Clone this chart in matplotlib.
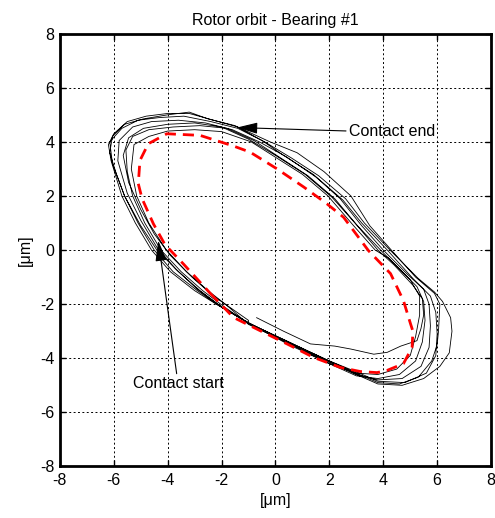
import numpy as np
import matplotlib.pyplot as plt

plt.rcParams['font.family'] = ['Liberation Sans', 'DejaVu Sans']
plt.rcParams['font.size'] = 11.5
plt.rcParams['axes.unicode_minus'] = False

# measured rotor orbit, one list of (x, y) points per revolution [um]
rev0 = [(-0.7, -2.5), (0.3, -3.0), (1.3, -3.47), (2.2, -3.55), (2.8, -3.66), (3.65, -3.85),
        (4.15, -3.78), (4.65, -3.55), (5.25, -3.35), (5.4, -2.9), (5.5, -2.4), (5.45, -1.8),
        (5.1, -1.3), (4.4, -0.55), (3.8, 0.0), (2.95, 1.0), (2.1, 1.95), (1.1, 2.8), (0.0, 3.5),
        (-1.0, 4.1), (-2.0, 4.55), (-3.0, 4.7), (-4.0, 4.65), (-4.9, 4.5), (-5.45, 4.15),
        (-5.65, 3.5), (-5.45, 2.5), (-5.0, 1.5), (-4.5, 0.6), (-3.9, -0.2), (-3.1, -1.0),
        (-2.3, -1.7), (-1.5, -2.25), (-1.0, -2.6)]
rev1 = [(-1.0, -2.7), (0.5, -3.4), (2.0, -4.1), (3.0, -4.55), (3.8, -4.9), (4.6, -4.95),
        (5.3, -4.7), (5.8, -4.1), (6.0, -3.5), (6.05, -3.0), (6.1, -2.0), (5.9, -1.6),
        (5.2, -1.0), (4.3, 0.0), (3.5, 0.9), (2.8, 2.0), (1.8, 2.9), (0.8, 3.6), (-0.2, 4.0),
        (-1.4, 4.55), (-2.3, 4.8), (-3.2, 5.05), (-4.0, 5.05), (-4.8, 4.95), (-5.5, 4.75),
        (-6.0, 4.3), (-6.2, 3.9), (-6.1, 3.3), (-5.7, 2.0), (-5.2, 1.0), (-4.6, 0.0),
        (-3.9, -0.8), (-3.0, -1.5), (-2.2, -2.0), (-1.0, -2.7)]
rev2 = [(0.5, -3.5), (2.0, -4.2), (3.0, -4.55), (3.8, -4.6), (4.5, -4.4), (5.0, -3.9),
        (5.2, -3.2), (5.35, -2.4), (5.35, -1.7), (5.0, -1.1), (4.2, -0.3), (3.7, 0.0),
        (2.9, 0.9), (1.95, 2.0), (1.0, 2.8), (-0.9, 4.0), (-2.0, 4.38), (-3.0, 4.45),
        (-4.0, 4.4), (-4.7, 4.2), (-5.25, 3.9), (-5.35, 3.0), (-5.15, 2.0), (-4.7, 1.0),
        (-4.05, 0.0), (-3.3, -0.8), (-2.5, -1.5), (-1.8, -2.05), (-1.0, -2.75)]
rev3 = [(0.5, -3.45), (2.0, -4.15), (3.0, -4.6), (3.8, -4.8), (4.7, -4.75), (5.4, -4.3),
        (5.7, -3.6), (5.75, -2.8), (5.7, -2.0), (5.5, -1.45), (4.9, -0.9), (4.0, 0.0),
        (3.2, 0.9), (2.4, 1.9), (1.5, 2.7), (0.4, 3.45), (-0.6, 4.0), (-1.6, 4.45),
        (-2.6, 4.7), (-3.6, 4.8), (-4.6, 4.75), (-5.3, 4.55), (-5.8, 4.05), (-5.85, 3.3),
        (-5.5, 2.1), (-5.0, 1.1), (-4.4, 0.1), (-3.7, -0.7), (-2.9, -1.45), (-2.0, -2.1),
        (-1.0, -2.7)]
rev4 = [(0.5, -3.4), (2.0, -4.12), (3.0, -4.6), (3.8, -4.95), (4.7, -5.0), (5.5, -4.75),
        (6.1, -4.3), (6.45, -3.8), (6.55, -3.0), (6.5, -2.5), (6.2, -1.9), (5.9, -1.55),
        (5.3, -1.05), (4.25, 0.0), (3.3, 1.0), (2.6, 1.9), (1.6, 2.75), (0.6, 3.4),
        (-0.4, 4.0), (-1.4, 4.5), (-2.4, 4.75), (-3.4, 4.95), (-4.3, 4.9), (-5.1, 4.8),
        (-5.7, 4.5), (-6.15, 4.0), (-6.05, 3.2), (-5.6, 2.0), (-5.1, 1.0), (-4.5, 0.0),
        (-3.8, -0.8), (-2.9, -1.5), (-2.1, -2.05), (-1.0, -2.68)]
rev5 = [(0.5, -3.45), (2.0, -4.2), (3.0, -4.65), (3.8, -4.75), (4.6, -4.6), (5.2, -4.1),
        (5.45, -3.4), (5.55, -2.6), (5.5, -1.9), (5.25, -1.35), (4.6, -0.7), (3.9, 0.0),
        (3.0, 0.95), (2.2, 1.9), (1.2, 2.75), (0.2, 3.4), (-0.8, 4.05), (-1.8, 4.5),
        (-2.8, 4.6), (-3.8, 4.55), (-4.7, 4.45), (-5.3, 4.2), (-5.55, 3.7), (-5.5, 2.9),
        (-5.3, 2.0), (-4.85, 1.0), (-4.25, 0.0), (-3.5, -0.8), (-2.7, -1.5), (-1.9, -2.1),
        (-1.0, -2.72)]
rev6 = [(0.5, -3.42), (2.0, -4.1), (3.0, -4.5), (3.8, -4.85), (4.8, -4.9), (5.6, -4.55),
        (5.95, -3.9), (6.0, -3.1), (5.95, -2.3), (5.75, -1.7), (5.1, -1.05), (4.15, 0.0),
        (3.2, 1.0), (2.5, 1.85), (1.4, 2.8), (0.3, 3.5), (-0.5, 4.05), (-1.5, 4.6),
        (-2.5, 4.85), (-3.2, 5.1), (-4.0, 5.0), (-4.9, 4.85), (-5.6, 4.65), (-6.05, 4.2),
        (-6.15, 3.6), (-5.9, 2.8), (-5.6, 2.0), (-5.0, 0.9), (-4.4, 0.0), (-3.6, -0.8),
        (-2.8, -1.5), (-2.0, -2.1), (-1.0, -2.7)]
revs = [rev0, rev1, rev2, rev3, rev4, rev5, rev6]

# reference (model) orbit, red dashed
ref_orbit = [(-2.42, -1.6), (-1.56, -2.49), (-0.57, -2.98), (0.43, -3.47), (1.42, -3.97),
             (2.41, -4.34), (3.15, -4.49), (3.77, -4.53), (4.14, -4.45), (4.75, -4.2),
             (5.07, -3.6), (5.1, -3.0), (5.01, -2.72), (4.75, -1.87), (4.27, -0.87),
             (3.45, -0.02), (2.53, 1.21), (1.91, 1.71), (1.05, 2.33), (0.06, 3.0),
             (-0.94, 3.62), (-1.57, 3.85), (-2.8, 4.24), (-4.03, 4.3), (-4.72, 3.93),
             (-5.03, 3.31), (-5.09, 2.45), (-4.95, 1.9), (-4.53, 0.97), (-4.1, 0.2),
             (-3.42, -0.51), (-2.42, -1.6)]

ticks = [-8, -6, -4, -2, 0, 2, 4, 6, 8]

fig = plt.figure(figsize=(4.95, 5.18), dpi=100)
ax = fig.add_axes([0.121, 0.0995, 0.871, 0.8355])

trace = np.array([p for r in revs for p in r])
ax.plot(trace[:, 0], trace[:, 1], color='k', lw=0.6)
ref = np.array(ref_orbit)
ax.plot(ref[:, 0], ref[:, 1], color='#ff0000', lw=2.0, ls=(0, (4, 2.5)))

ax.set_xlim(-8, 8)
ax.set_ylim(-8, 8)
ax.set_xticks(ticks)
ax.set_yticks(ticks)
ax.grid(True, color='k', lw=0.7, ls=(0, (2, 2.5)))
ax.tick_params(direction='in', length=4, width=1, top=True, right=True, labelsize=11.5)
ax.tick_params(axis='x', pad=5)
ax.tick_params(axis='y', pad=4)
for s in ax.spines.values():
    s.set_linewidth(2)

ax.set_title('Rotor orbit - Bearing #1', fontsize=11.5, pad=6)
ax.set_xlabel('[μm]', fontsize=11.5, labelpad=3)
ax.set_ylabel('[μm]', fontsize=11.5, labelpad=5)

arrow = dict(arrowstyle='-|>,head_length=1.1,head_width=0.3', color='k', lw=0.8,
             shrinkA=0, shrinkB=0)
ax.annotate('Contact end', xy=(-1.43, 4.53), xytext=(2.72, 4.4), ha='left', va='center',
            fontsize=11.5, arrowprops=dict(arrow, relpos=(0, 0.5)))
ax.annotate('Contact start', xy=(-4.35, 0.35), xytext=(-5.3, -4.95), ha='left', va='center',
            fontsize=11.5, arrowprops=arrow)

fig.savefig('out.png', dpi=100)
